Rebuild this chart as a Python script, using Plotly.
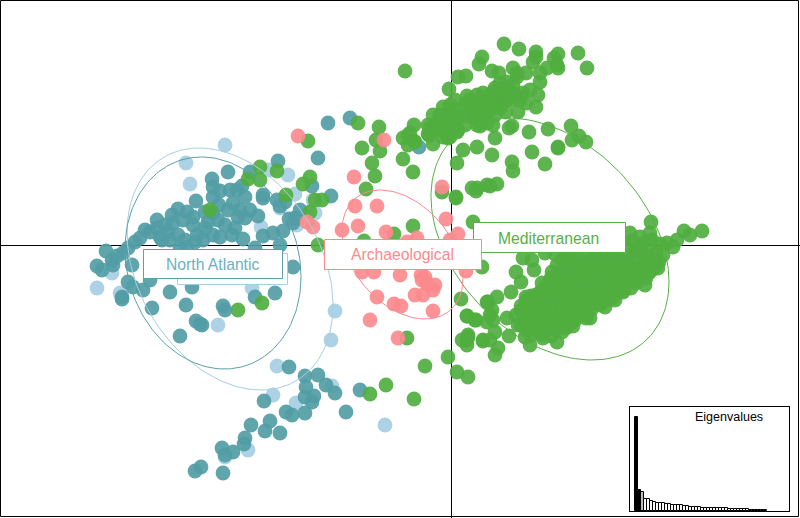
import numpy as np
import plotly.graph_objects as go

groups = ["North Atlantic (light)", "North Atlantic", "Mediterranean", "Archaeological"]

light_points = [(225,145),(186,163),(190,184),(288,175),(268,170),(295,194),(313,200),(315,213),(297,225),(280,208),
 (261,227),(203,232),(97,288),(112,273),(252,288),(335,311),(331,340),(218,325),(277,366),(273,395),(296,403),
 (332,386),(385,425),(248,450),(225,457),(120,293)]

teal_points = [(278,161),(318,158),(228,172),(250,172),(212,179),(213,187),(220,191),(230,190),(242,186),(237,190),
 (245,197),(263,198),(263,195),(277,200),(280,206),(285,202),(196,201),(213,197),(219,205),(213,213),(218,220),
 (208,222),(233,203),(240,210),(250,210),(238,217),(258,216),(245,218),(178,209),(172,215),(157,220),(193,217),
 (187,212),(183,220),(193,225),(173,223),(178,235),(168,232),(160,237),(145,230),(157,228),(162,240),(135,242),
 (123,253),(106,251),(112,260),(113,265),(97,266),(102,270),(132,265),(128,282),(133,287),(143,290),(122,297),
 (170,292),(192,287),(263,236),(273,233),(283,231),(289,219),(300,210),(331,196),(312,186),(293,267),(280,245),
 (255,248),(203,240),(195,242),(213,235),(220,237),(232,235),(235,228),(243,239),(197,235),(187,247),(180,248),
 (275,293),(255,297),(150,280),(122,299),(152,308),(186,305),(223,306),(225,310),(196,321),(200,324),(202,325),
 (180,336),(289,367),(305,376),(318,375),(326,385),(335,393),(306,387),(305,397),(314,396),(312,402),(264,401),
 (286,412),(292,415),(305,413),(346,412),(360,390),(270,421),(251,425),(265,431),(280,433),(245,438),(244,444),
 (222,448),(233,452),(225,455),(201,467),(195,471),(223,473),(419,147),(328,123),(350,118),(295,218),(293,223),
 (165,225),(150,232),(140,238),(128,248),(117,256),(205,228),(225,225),(228,210),(205,212),(170,240),(185,240)]

green_points = [(308,141),(260,167),(277,171),(248,179),(260,180),(286,195),(310,177),(303,184),(315,200),(322,200),
 (310,212),(318,245),(210,210),(262,303),(238,310),(370,394),(386,385),(414,399),(407,338),(358,123),(379,127),
 (376,140),(380,151),(362,148),(372,163),(375,176),(366,189),(403,159),(413,172),(413,226),(394,234),(364,241),
 (414,125),(403,138),(408,135),(414,141),(433,144),(428,134),(437,123),(443,137),(448,138),(457,132),(463,150),
 (477,147),(457,163),(442,192),(456,197),(472,188),(477,188),(487,185),(473,222),(482,267),(461,299),(487,302),
 (467,316),(475,320),(487,322),(462,340),(468,337),(467,345),(483,341),(490,340),(448,357),(425,366),(457,372),
 (468,377),(405,71),(504,44),(519,49),(536,52),(536,57),(533,62),(558,54),(578,53),(587,68),(554,58),(557,65),
 (558,68),(547,68),(540,73),(540,82),(482,57),(479,64),(492,71),(499,73),(513,68),(517,73),(526,73),(458,77),
 (466,76),(449,89),(467,96),(455,100),(443,107),(433,115),(428,125),(410,133),(408,145),(415,142),(429,135),
 (442,123),(442,130),(450,137),(458,130),(457,120),(448,113),(450,105),(467,116),(475,108),(477,95),(483,93),
 (493,92),(500,83),(507,82),(513,85),(517,77),(523,93),(530,90),(538,95),(536,107),(526,103),(518,112),(506,112),
 (500,100),(507,100),(490,110),(493,125),(487,123),(480,126),(477,125),(512,126),(509,128),(495,138),(529,132),
 (548,129),(571,126),(579,136),(572,140),(586,142),(558,147),(558,148),(532,152),(492,155),(512,162),(513,171),
 (545,164),(497,184),(490,186),(476,191),(456,198),(483,107),(470,100),(480,100),(490,100),(485,115),(495,105),
 (475,118),(460,110),(440,115),(465,125),(455,115),
 (436,125),(445,120),(452,125),(465,105),(472,103),(478,110),(484,102),(490,95),(497,97),(503,92),(510,92),(516,95),
 (470,112),(480,115),(495,115),(500,108),(450,125),(440,130),(430,128),(505,90),(495,88),(512,100),(520,100),
 (651,222),(702,231),(684,231),(690,235),(677,240),(673,247),(667,243),(658,268),(645,285),(590,318),(605,307),
 (615,300),(623,292),(557,342),(562,332),(530,345),(543,338),(498,348),(495,355),(483,340),(468,335),(467,340),
 (476,320),(467,316),(490,315),(488,302),(497,297),(492,310),(511,292),(521,282),(516,272),(534,270),(523,258),
 (532,260),(545,253),(552,272),(542,283),(495,332),(509,336),(507,318),(493,320),(518,325),(528,330),(525,337),
 (630,233),(640,237),(650,233),(632,241),(643,243),(652,240),(660,244),(555,254),(566,256),(574,253),(586,255),
 (596,252),(606,256),(615,253),(626,255),(636,252),(647,256),(656,253),(663,255),(557,265),(567,263),(577,266),
 (588,264),(598,266),(608,263),(618,266),(629,264),(639,267),(649,264),(659,262),(551,278),(560,274),(571,277),
 (581,274),(592,276),(601,273),(612,277),(622,274),(632,276),(642,274),(650,272),(546,286),(556,287),
 (566,285),(576,287),(586,284),(596,287),(606,285),(616,286),(626,284),(636,283),(526,297),(536,295),(546,297),
 (556,295),(566,297),(576,294),(586,297),(596,295),(606,296),(616,293),(624,290),(521,306),(531,304),(541,307),
 (551,305),(561,307),(571,304),(581,306),(591,304),(600,305),(516,315),(526,314),(536,316),(546,314),(556,317),
 (566,315),(576,316),(586,314),(521,325),(531,324),(541,326),(551,324),(561,325),(571,323),(531,335),(541,334),(551,336),
 (562,260),(572,259),(583,261),(593,258),(603,260),(613,259),(623,261),(634,258),(644,260),(654,259),(562,270),
 (572,271),(583,269),(593,270),(603,268),(613,271),(624,269),(634,270),(644,269),(654,268),(555,281),(566,280),
 (576,282),(586,279),(597,281),(607,280),(617,282),(627,279),(637,280),(646,278),(531,296),(541,291),(551,291),
 (561,290),(571,292),(581,290),(591,292),(601,290),(611,291),(621,289),(631,288),(526,301),(536,300),(546,302),
 (556,300),(566,302),(576,300),(586,301),(596,300),(606,300),(612,298),(521,311),(531,310),(541,311),(551,310),
 (561,312),(571,310),(581,311),(591,310),(526,320),(536,320),(546,321),(556,320),(566,321),(576,319),(586,318),
 (526,330),(536,330),(546,330),(556,329),(566,328),(573,326),(640,247),(650,247),(628,246),(618,246),(608,246),
 (598,246),(588,246),(578,246)]

pink_points = [(298,136),(384,140),(354,177),(442,187),(355,206),(377,206),(358,226),(342,230),(386,232),(446,219),
 (307,222),(313,227),(458,234),(450,240),(417,238),(407,242),(362,272),(374,272),(400,275),(421,275),(425,277),
 (435,285),(428,285),(433,290),(423,295),(415,295),(377,297),(394,304),(401,306),(433,311),(370,320),(398,338),
 (466,271),(427,283),(422,280)]

# ellipses: centre x, centre y, half width, half height, correlation
ellipse_light = (230, 269, 103, 121, 0.30)
ellipse_teal = (213, 263, 88, 106, 0.13)
ellipse_green = (550, 239, 119, 121, 0.353)
ellipse_pink = (402.5, 254.5, 60.5, 64.5, 0.37)

eigenvalues = [94,21,19,12.5,12,10,9.5,8.5,8,8,7.5,7,6.5,6.5,6,6,5,5,4,4,4,4,3.5,3.5,3.5,3.5,3,3,3,3,3,2.5,2.5,2.5,2.5,2,2,2,1.5,1.5,1.5,1,1,1]
eigen_colors = ["black","black","#bdbdbd"] + ["white"]*41

TEAL, LIGHT, GREEN, PINK = "#529da5", "#a6cee3", "#50ae3f", "#fb8a8e"

fig = go.Figure()
def xy(p): return [a for a,b in p],[b for a,b in p]
for pts,col in [(light_points,LIGHT),(teal_points,TEAL),(green_points,GREEN),(pink_points,PINK)]:
    x,y = xy(pts)
    fig.add_trace(go.Scatter(x=x,y=y,mode="markers",marker=dict(size=14.8,color=col,opacity=0.92,line=dict(width=0)),showlegend=False,hoverinfo="skip"))
t = np.linspace(0,2*np.pi,181)
for (cx,cy,rx,ry,rho),col in [(ellipse_light,LIGHT),(ellipse_teal,"#5ba1a8"),(ellipse_green,"#57b046"),(ellipse_pink,PINK)]:
    fig.add_trace(go.Scatter(x=cx+rx*np.cos(t),y=cy+ry*np.cos(t-np.arccos(rho)),mode="lines",line=dict(color=col,width=1),showlegend=False,hoverinfo="skip"))

fig.add_trace(go.Bar(x=list(range(len(eigenvalues))),y=eigenvalues,width=1,marker=dict(color=eigen_colors,line=dict(color="black",width=1)),
                     xaxis="x2",yaxis="y2",showlegend=False,hoverinfo="skip"))

shapes=[dict(type="rect",x0=0.5,x1=798.5,y0=0.5,y1=516.5,line=dict(color="black",width=1),layer="below"),
        dict(type="line",x0=0,x1=800,y0=245.5,y1=245.5,line=dict(color="black",width=1),layer="below"),
        dict(type="line",x0=451.5,x1=451.5,y0=0,y1=518,line=dict(color="black",width=1),layer="below")]
boxes=[(177,287,253,284,"#a6cee3"),(143,282,249,278,"#5ba1a8"),(473,625,222,252,"#57b046"),(324,481,239,269,"#fb8a8e")]
for x0,x1,y0,y1,c in boxes:
    shapes.append(dict(type="rect",x0=x0+.5,x1=x1+.5,y0=y0+.5,y1=y1+.5,line=dict(color=c,width=1),fillcolor="white",layer="above"))
labels=[("North Atlantic",212.5,264,"#6fb0bf"),("Mediterranean",548.5,238,"#57b046"),("Archaeological",402,254,"#fb8a8e")]
ann=[dict(x=x,y=y,xref="x",yref="y",text=t_,showarrow=False,font=dict(family="Liberation Sans",size=15.7,color=c)) for t_,x,y,c in labels]
ann.append(dict(x=729,y=417,xref="x",yref="y",text="Eigenvalues",showarrow=False,font=dict(family="Liberation Sans",size=12.5,color="black")))

fig.update_layout(width=800,height=518,margin=dict(l=0,r=0,t=0,b=0),paper_bgcolor="white",plot_bgcolor="white",
    shapes=shapes,annotations=ann,barmode="overlay",bargap=0,
    xaxis=dict(range=[0,800],visible=False,fixedrange=True),
    yaxis=dict(range=[518,0],visible=False,fixedrange=True),
    xaxis2=dict(domain=[630/800,789/800],anchor="y2",range=[-2.17,50.83],showline=True,mirror=True,linecolor="black",linewidth=1,showgrid=False,zeroline=False,showticklabels=False,ticks="",fixedrange=True),
    yaxis2=dict(domain=[(518-511)/518,(518-407)/518],anchor="x2",range=[0,104],showline=True,mirror=True,linecolor="black",linewidth=1,showgrid=False,zeroline=False,showticklabels=False,ticks="",fixedrange=True))
fig.write_html("out.html",config=dict(displayModeBar=False),post_script="document.body.style.margin='0';document.documentElement.style.overflow='hidden';window.dispatchEvent(new Event('resize'));")
